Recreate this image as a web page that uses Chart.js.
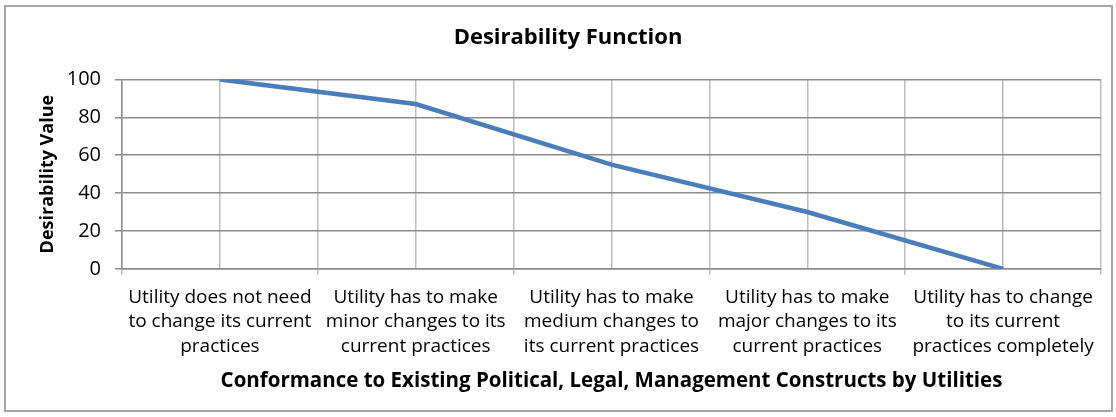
<!DOCTYPE html>
<html lang="en">
  <head>
    <meta charset="UTF-8" />
    <title>Desirability Function</title>
    <style>
      body { margin: 0; background: #fff; }
      .wrap { position: relative; width: 1116px; height: 417px; }
      .frame {
        position: absolute; left: 4px; top: 5px; width: 1105px; height: 403px;
        border: 2px solid #a6a6a6; pointer-events: none;
      }
      canvas { position: absolute; left: 0; top: 0; }
    </style>
  </head>
  <body>
    <div class="wrap">
      <canvas id="myChart" width="1116" height="417"></canvas>
      <div class="frame"></div>
    </div>
    <script src="https://cdn.jsdelivr.net/npm/chart.js"></script>
    <script>
      // category labels (one array of lines per category)
      const labels = [
        ["Utility does not need", "to change its current", "practices"],
        ["Utility has to make", "minor changes to its", "current practices"],
        ["Utility has to make", "medium changes to", "its current practices"],
        ["Utility has to make", "major changes to its", "current practices"],
        ["Utility has to change", "to its current", "practices completely"],
      ];
      const values = [100, 87, 55, 30, 0];
      const yTicks = [0, 20, 40, 60, 80, 100];

      const font = "'Open Sans', Lato, sans-serif";

      const config = {
        type: "line",
        data: {
          labels: labels,
          datasets: [
            {
              label: "Desirability",
              data: values,
              borderColor: "#4a7ebb",
              borderWidth: 4.5,
              pointRadius: 0,
              tension: 0,
              xAxisID: "x",
            },
          ],
        },
        options: {
          responsive: false,
          animation: false,
          layout: { padding: { left: 35, right: 15, top: 18, bottom: 24 } },
          plugins: {
            legend: { display: false },
            tooltip: { enabled: false },
            title: {
              display: true,
              text: "Desirability Function",
              color: "#000",
              font: { family: font, size: 22, weight: "bold" },
              padding: { top: 7, bottom: 28 },
            },
          },
          scales: {
            x: {
              type: "category",
              position: "bottom",
              offset: true,
              grid: {
                offset: true,
                color: "#bdbdbd",
                lineWidth: 1.5,
                tickLength: 6,
              },
              border: { color: "#8c8c8c", width: 1.5 },
              ticks: {
                color: "#000",
                maxRotation: 0,
                autoSkip: false,
                padding: 10,
                font: { family: font, size: 19, lineHeight: 1.29 },
              },
              title: {
                display: true,
                text: "Conformance to Existing Political, Legal, Management Constructs by Utilities",
                color: "#000",
                font: { family: font, size: 20.5, weight: "bold" },
                padding: { top: 0, bottom: 0 },
              },
            },
            xc: {
              type: "category",
              position: "bottom",
              offset: true,
              grid: {
                offset: false,
                color: "#bdbdbd",
                lineWidth: 1.5,
                drawTicks: false,
              },
              border: { display: false },
              ticks: { display: false },
              afterFit: (scale) => {
                scale.height = 0;
              },
            },
            y: {
              min: 0,
              max: 100,
              afterBuildTicks: (scale) => {
                scale.ticks = yTicks.map((v) => ({ value: v }));
              },
              grid: {
                color: "#8c8c8c",
                lineWidth: 1.5,
                tickLength: 7,
              },
              border: { color: "#8c8c8c", width: 1.5 },
              ticks: {
                color: "#000",
                padding: 14,
                font: { family: font, size: 20 },
              },
              title: {
                display: true,
                text: "Desirability Value",
                color: "#000",
                font: { family: font, size: 18, weight: "bold" },
                padding: { top: 2, bottom: 4 },
              },
              afterFit: (scale) => {
                scale.width = 87;
              },
            },
          },
        },
      };

      const myChart = new Chart(document.getElementById("myChart"), config);
    </script>
  </body>
</html>
